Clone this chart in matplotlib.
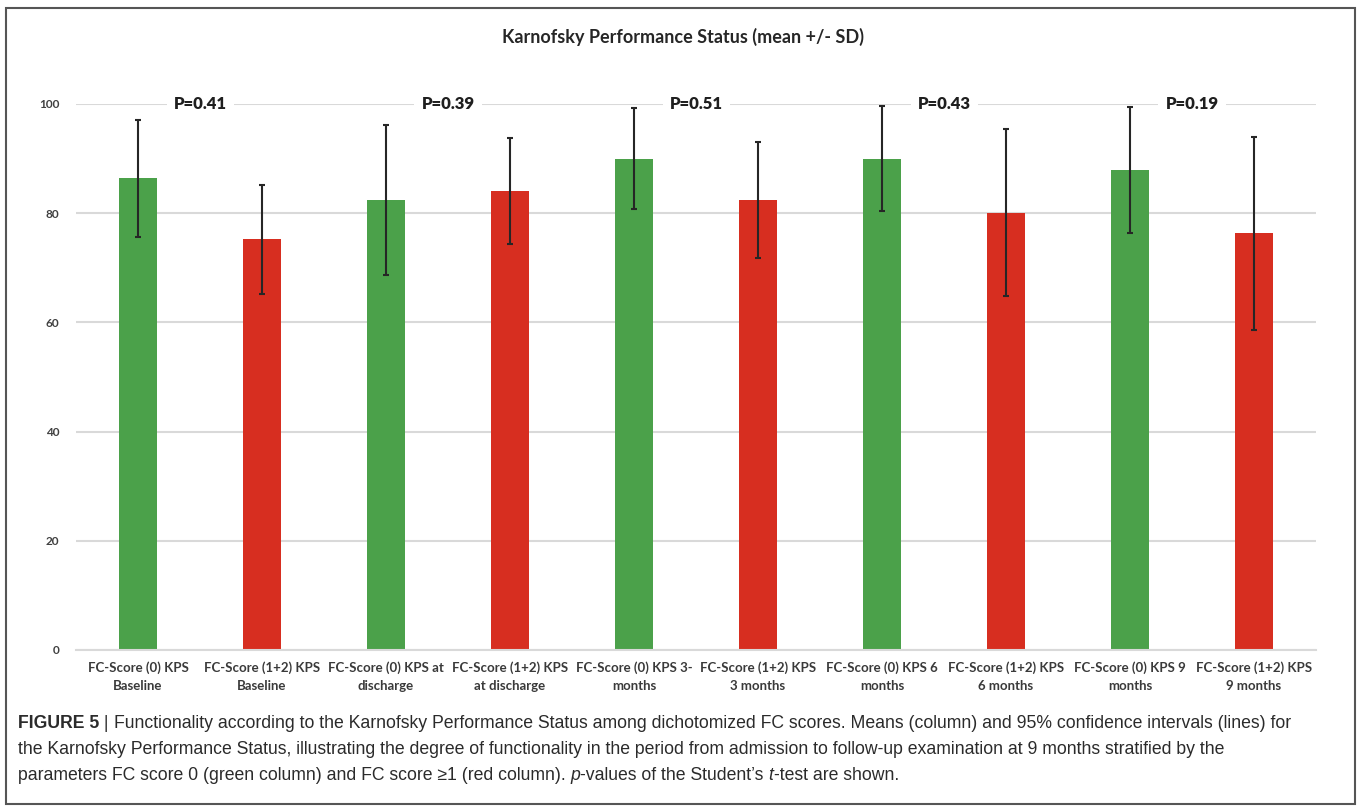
import matplotlib.pyplot as plt
from matplotlib.patches import Rectangle

labels = ['FC-Score (0) KPS\nBaseline', 'FC-Score (1+2) KPS\nBaseline',
          'FC-Score (0) KPS at\ndischarge', 'FC-Score (1+2) KPS\nat discharge',
          'FC-Score (0) KPS 3-\nmonths', 'FC-Score (1+2) KPS\n3 months',
          'FC-Score (0) KPS 6\nmonths', 'FC-Score (1+2) KPS\n6 months',
          'FC-Score (0) KPS 9\nmonths', 'FC-Score (1+2) KPS\n9 months']
means = [86.4, 75.2, 82.4, 84.1, 90.0, 82.4, 90.0, 80.1, 87.9, 76.3]
sds = [10.7, 10.0, 13.7, 9.7, 9.3, 10.6, 9.6, 15.3, 11.5, 17.7]
p_values = ['P=0.41', 'P=0.39', 'P=0.51', 'P=0.43', 'P=0.19']
yticks = [0, 20, 40, 60, 80, 100]

GREEN = '#4ba14a'
RED = '#d72e20'
colors = [GREEN if i % 2 == 0 else RED for i in range(len(means))]

plt.rcParams['font.family'] = ['Lato', 'DejaVu Sans']

fig = plt.figure(figsize=(13.57, 8.10), dpi=100)
W, H = 1357, 810
ax = fig.add_axes([76 / W, 1 - 650 / H, 1240 / W, 546 / H])

x = list(range(len(means)))
ax.bar(x, means, width=0.31, color=colors, zorder=2)
ax.errorbar(x, means, yerr=sds, fmt='none', ecolor='#262626', elinewidth=1.5,
            capsize=2.5, capthick=1.5, zorder=3)

ax.set_xlim(-0.5, len(means) - 0.5)
ax.set_ylim(0, 100)
ax.set_yticks(yticks)
ax.set_yticklabels([str(t) for t in yticks], fontsize=8.5, fontweight='bold', color='#404040')
ax.set_xticks(x)
ax.set_xticklabels(labels, fontsize=9.5, fontweight='bold', color='#3a3a3a', linespacing=1.6)
ax.tick_params(axis='both', length=0)
ax.tick_params(axis='y', pad=12)
ax.tick_params(axis='x', pad=8)
ax.grid(axis='y', color='#d9d9d9', linewidth=1.5, zorder=0)
for side in ['top', 'right', 'left']:
    ax.spines[side].set_visible(False)
ax.spines['bottom'].set_color('#d9d9d9')
ax.spines['bottom'].set_linewidth(1.5)

# p-values sit on the top gridline, between each pair of bars
for i, p in enumerate(p_values):
    ax.text(2 * i + 0.5, 100, p, ha='center', va='center', fontsize=12,
            fontweight='heavy', color='#1f1f1f', zorder=4,
            bbox=dict(facecolor='white', edgecolor='none', pad=5))

fig.text(683 / W, 1 - 37 / H, 'Karnofsky Performance Status (mean +/- SD)',
         ha='center', va='center', fontsize=13, fontweight='bold', color='#262626')

# frame around chart and caption
fig.patches.append(Rectangle((6 / W, 1 - 804 / H), 1349 / W, 796 / H, transform=fig.transFigure,
                             fill=False, edgecolor='#555555', linewidth=1.5))

# caption, drawn run by run so bold/italic pieces line up
cap_font = ['Liberation Sans', 'DejaVu Sans']
caption = [
    [('FIGURE 5', 'bold', 'normal'), (' | ', 'normal', 'normal'),
     ('Functionality according to the Karnofsky Performance Status among dichotomized FC scores. '
      'Means (column) and 95% confidence intervals (lines) for', 'normal', 'normal')],
    [('the Karnofsky Performance Status, illustrating the degree of functionality in the period '
      'from admission to follow-up examination at 9 months stratified by the', 'normal', 'normal')],
    [('parameters FC score 0 (green column) and FC score \u22651 (red column). ', 'normal', 'normal'),
     ('p', 'normal', 'italic'), ('-values of the Student\u2019s ', 'normal', 'normal'),
     ('t', 'normal', 'italic'), ('-test are shown.', 'normal', 'normal')],
]
renderer = fig.canvas.get_renderer()


def draw_line(runs, ypos, size):
    xpos = 18 / W
    drawn = []
    for text, weight, style in runs:
        t = fig.text(xpos, ypos, text, ha='left', va='center', fontsize=size,
                     family=cap_font, fontweight=weight, fontstyle=style, color='#2b2b2b')
        bb = t.get_window_extent(renderer)
        xpos = fig.transFigure.inverted().transform((bb.x1, bb.y1))[0]
        drawn.append(t)
    return drawn, xpos * W


# size the caption so the first line ends where the text block ends
trial, end = draw_line(caption[0], 0.5, 12)
for t in trial:
    t.remove()
cap_size = 12 * (1290 - 18) / (end - 18)

for row, runs in enumerate(caption):
    draw_line(runs, 1 - (724 + 26 * row) / H, cap_size)

fig.savefig('out.png', dpi=100)
